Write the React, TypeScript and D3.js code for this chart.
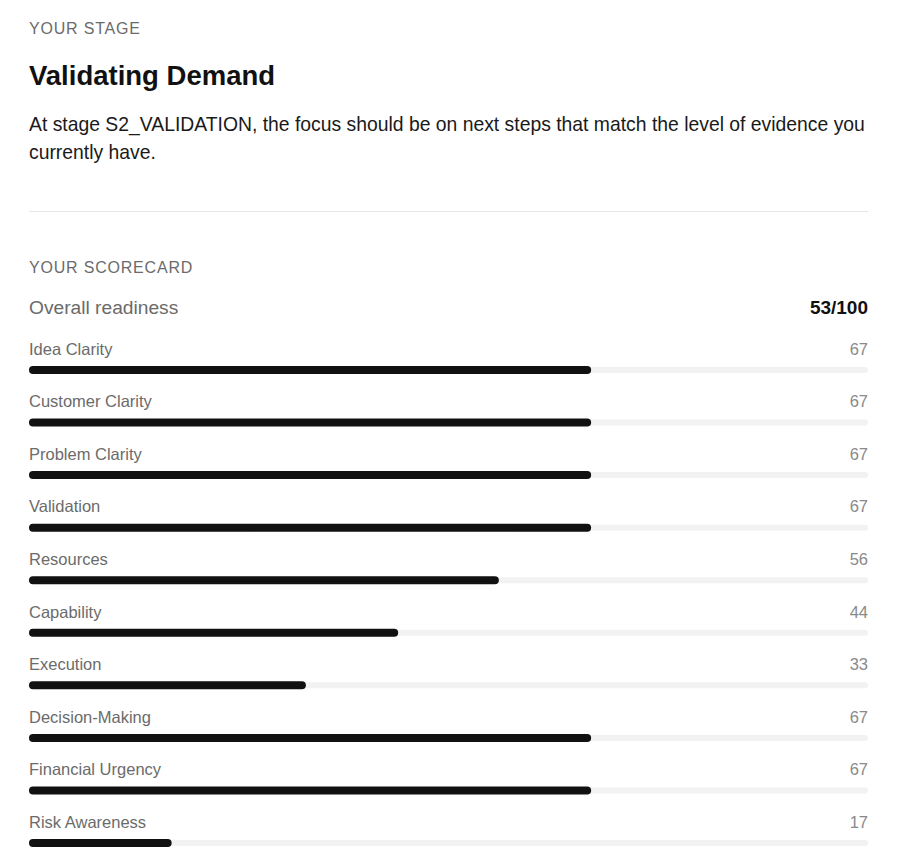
import React from "react";
import * as d3 from "d3";

const categories = [
  "Idea Clarity",
  "Customer Clarity",
  "Problem Clarity",
  "Validation",
  "Resources",
  "Capability",
  "Execution",
  "Decision-Making",
  "Financial Urgency",
  "Risk Awareness",
];
const scores = [67, 67, 67, 67, 56, 44, 33, 67, 67, 17];
const overall = 53;
const overallMax = 100;
const stageLabel = "YOUR STAGE";
const stageTitle = "Validating Demand";
const stageTextLines = [
  "At stage S2_VALIDATION, the focus should be on next steps that match the level of evidence you",
  "currently have.",
];
const scorecardLabel = "YOUR SCORECARD";
const overallLabel = "Overall readiness";

const W = 900;
const H = 856;
const LEFT = 29;
const RIGHT = 868;
const FONT = "'Liberation Sans', Arial, Helvetica, sans-serif";

export default function App() {
  const x = d3.scaleLinear().domain([0, 100]).range([LEFT, RIGHT]);
  const rowY = d3
    .scaleLinear()
    .domain([0, categories.length - 1])
    .range([349, 822]);
  const barOffset = 21;

  return (
    <svg
      width={W}
      height={H}
      style={{ position: "absolute", left: 0, top: 0, background: "#fff" }}
      fontFamily={FONT}
    >
      <rect x={0} y={0} width={W} height={H} fill="#fff" />
      <text x={LEFT} y={33.8} fontSize={16} fill="#6b6b6b" letterSpacing={0.8}>
        {stageLabel}
      </text>
      <text x={LEFT} y={85} fontSize={27.5} fontWeight="bold" fill="#111">
        {stageTitle}
      </text>
      {stageTextLines.map((l, i) => (
        <text key={i} x={LEFT} y={130.5 + i * 28} fontSize={19.35} fill="#1a1a1a">
          {l}
        </text>
      ))}
      <line x1={LEFT} x2={RIGHT} y1={211.5} y2={211.5} stroke="#e6e6e6" strokeWidth={1} />
      <text x={LEFT} y={272.8} fontSize={16} fill="#6b6b6b" letterSpacing={0.8}>
        {scorecardLabel}
      </text>
      <text x={LEFT} y={314} fontSize={19.2} fill="#6b6b6b">
        {overallLabel}
      </text>
      <text x={RIGHT} y={314} fontSize={19} fontWeight="bold" fill="#111" textAnchor="end">
        {`${overall}/${overallMax}`}
      </text>
      {categories.map((c, i) => {
        const y = rowY(i);
        const by = y + barOffset;
        return (
          <g key={c}>
            <text x={LEFT} y={y + 5.8} fontSize={16.5} fill="#6b6b6b">
              {c}
            </text>
            <text x={RIGHT} y={y + 5.8} fontSize={16.5} fill="#8a8a8a" textAnchor="end">
              {scores[i]}
            </text>
            <line
              x1={x(0) + 3}
              x2={x(100) - 3}
              y1={by}
              y2={by}
              stroke="#f2f2f2"
              strokeWidth={6}
              strokeLinecap="round"
            />
            <line
              x1={x(0) + 4}
              x2={x(scores[i]) - 4}
              y1={by}
              y2={by}
              stroke="#111"
              strokeWidth={8}
              strokeLinecap="round"
            />
          </g>
        );
      })}
    </svg>
  );
}
